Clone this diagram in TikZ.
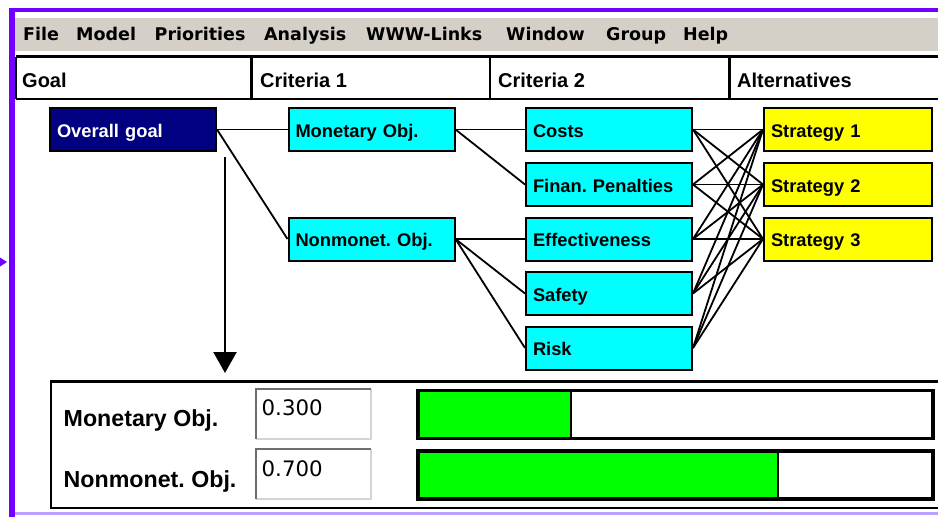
\documentclass[tikz,border=0pt]{standalone}
\usepackage{fontspec}
\setmainfont{Liberation Sans}
\newfontfamily\menufont{DejaVu Sans}
\usetikzlibrary{arrows.meta}
\definecolor{framecol}{RGB}{112,0,255}
\definecolor{framelight}{RGB}{185,160,255}
\definecolor{menugray}{RGB}{212,208,200}
\definecolor{navybox}{RGB}{0,0,128}
\definecolor{cyanbox}{RGB}{0,255,255}
\definecolor{yellowbox}{RGB}{255,255,0}
\definecolor{greenbar}{RGB}{0,255,0}
\definecolor{sunkdark}{RGB}{110,110,110}
\definecolor{sunklight}{RGB}{215,212,205}
\frenchspacing
\hyphenpenalty=10000
\begin{document}
\begin{tikzpicture}[x=1pt,y=-1pt,
  box/.style={draw=black,line width=2pt,minimum height=43pt,text width=152pt,inner xsep=7pt,inner ysep=0pt,
    align=left,text height=17pt,text depth=2pt,font=\fontsize{18.3}{20}\selectfont\bfseries,anchor=center},
  critbox/.style={box,fill=cyanbox},
  altbox/.style={box,fill=yellowbox,text width=154pt},
  goalbox/.style={box,fill=navybox,text=white},
  link/.style={line width=1.8pt},
  menuitem/.style={anchor=base west,inner sep=0pt,font=\menufont\fontsize{17.5}{18}\selectfont\bfseries},
  headitem/.style={anchor=base west,inner sep=0pt,font=\fontsize{20}{21}\selectfont\bfseries},
  plabel/.style={anchor=base west,inner sep=0pt,font=\fontsize{23.2}{24}\selectfont\bfseries},
  numtext/.style={anchor=base west,inner sep=0pt,font=\menufont\fontsize{21.3}{22}\selectfont},
  bar/.style={draw=black,line width=3.5pt,fill=white},
]
\useasboundingbox (0,0) rectangle (938,517);
\clip (0,0) rectangle (938,517);
\fill[white] (0,0) rectangle (938,517);

% frame
\fill[framecol] (8.5,8) rectangle (938,11.5);
\fill[framecol] (8.5,8) rectangle (15,517);
\fill[framelight] (15,512) rectangle (938,515);
\fill[framecol] (0,257.5) -- (7,262) -- (0,266.5) -- cycle;

% menu bar
\fill[menugray] (15,18) rectangle (938,51);
\node[menuitem] (mfile) at (23,40.7) {File};
\node[menuitem] (mmodel) at (76,40.7) {Model};
\node[menuitem] (mprio) at (154.5,40.7) {Priorities};
\node[menuitem] (manal) at (264,40.7) {Analysis};
\node[menuitem] (mwww) at (366,40.7) {WWW-Links};
\node[menuitem] (mwin) at (506,40.7) {Window};
\node[menuitem] (mgroup) at (606,40.7) {Group};
\node[menuitem] (mhelp) at (683,40.7) {Help};

% header row
\draw[line width=2.5pt] (16,56.5) -- (945,56.5);
\draw[line width=2.5pt] (16,99) -- (945,99);
\draw[line width=2.5pt] (16,56.5) -- (16,99);
\draw[line width=2.5pt] (251.5,56.5) -- (251.5,99);
\draw[line width=2.5pt] (490,56.5) -- (490,99);
\draw[line width=2.5pt] (729.5,56.5) -- (729.5,99);
\node[headitem] (hgoal) at (22,87) {Goal};
\node[headitem] (hc1) at (260,87) {Criteria 1};
\node[headitem] (hc2) at (498,87) {Criteria 2};
\node[headitem] (halt) at (737,87) {Alternatives};

% nodes
\node[goalbox] (goal) at (133,129.5) {Overall goal};
\node[critbox] (mon) at (371.5,129.5) {Monetary Obj.};
\node[critbox] (nonmon) at (371.5,239) {Nonmonet. Obj.};
\node[critbox] (costs) at (609,129.5) {Costs};
\node[critbox] (finan) at (609,184.5) {Finan. Penalties};
\node[critbox] (effect) at (609,239) {Effectiveness};
\node[critbox] (safety) at (609,293.5) {Safety};
\node[critbox] (risk) at (609,348) {Risk};
\node[altbox] (s1) at (848,129.5) {Strategy 1};
\node[altbox] (s2) at (848,184.5) {Strategy 2};
\node[altbox] (s3) at (848,239) {Strategy 3};

% connectors
\draw[link] (goal.east) -- (mon.west);
\draw[link] (goal.east) -- (nonmon.west);
\draw[link] (mon.east) -- (costs.west);
\draw[link] (mon.east) -- (finan.west);
\draw[link] (nonmon.east) -- (effect.west);
\draw[link] (nonmon.east) -- (safety.west);
\draw[link] (nonmon.east) -- (risk.west);
\foreach \c in {costs,finan,effect,safety,risk}
  \foreach \s in {s1,s2,s3}
    \draw[link] (\c.east) -- (\s.west);

% arrow down to panel
\coordinate (arrowstart) at (225,157);
\coordinate (arrowend) at (225,373);
\draw[line width=2.2pt,-{Triangle[width=23pt,length=21pt]}] (arrowstart) -- (arrowend);

% bottom panel
\draw[line width=2.5pt] (51,381.3) rectangle (950,508);
\node[plabel] (lmon) at (63.5,426.5) {Monetary Obj.};
\node[plabel] (lnon) at (63.5,487) {Nonmonet. Obj.};

% sunken value boxes
\fill[white] (255,388) rectangle (372,440);
\draw[sunklight,line width=2pt] (256,439) -- (371,439) -- (371,389);
\draw[sunkdark,line width=2.2pt] (256,439) -- (256,389) -- (371,389);
\node[numtext] (v1) at (261.5,415) {0.300};
\fill[white] (255,448) rectangle (372,500);
\draw[sunklight,line width=2pt] (256,499) -- (371,499) -- (371,449);
\draw[sunkdark,line width=2.2pt] (256,499) -- (256,449) -- (371,449);
\node[numtext] (v2) at (261.5,476.5) {0.700};

% bars
\draw[bar] (418,390.5) rectangle (933,438.5);
\fill[greenbar] (419.75,392.25) rectangle (571,436.75);
\draw[line width=2pt] (571,392) -- (571,437);
\draw[bar] (418,451) rectangle (933,499);
\fill[greenbar] (419.75,452.75) rectangle (778,497.25);
\draw[line width=2pt] (778,452.5) -- (778,497.5);
\end{tikzpicture}
\end{document}
